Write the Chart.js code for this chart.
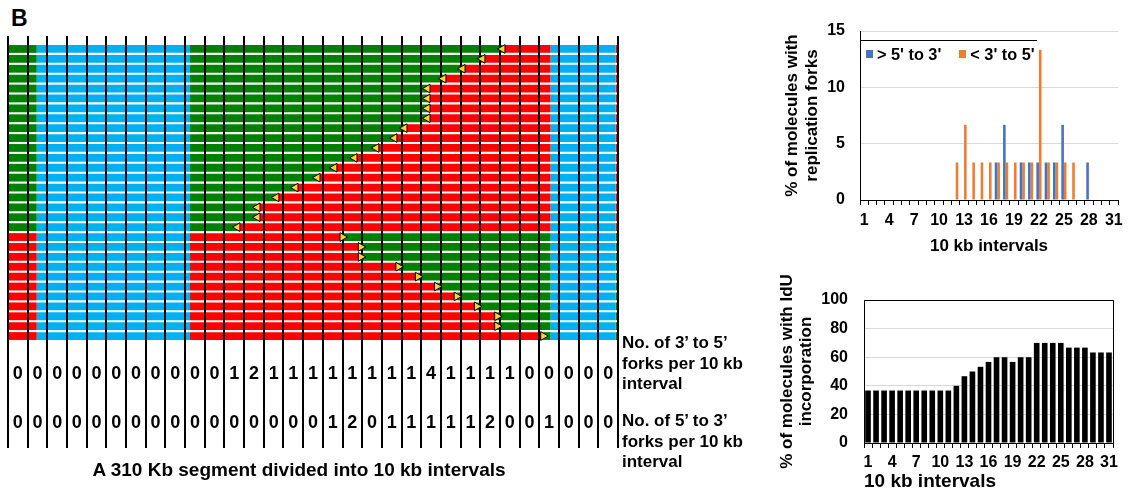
<!DOCTYPE html>
<html>
<head>
<meta charset="utf-8">
<script src="https://cdn.jsdelivr.net/npm/chart.js@4.4.1/dist/chart.umd.min.js"></script>
<style>
  html, body { margin: 0; padding: 0; background: #fff; }
  body { width: 1128px; height: 493px; position: relative; overflow: hidden;
         font-family: "Liberation Sans", Arial, Helvetica, sans-serif; color: #000; }
  .abs { position: absolute; }
  .num { position: absolute; font-weight: bold; font-size: 18px; line-height: 20px; transform: translateX(-50%); white-space: nowrap; }
  .rowlab { position: absolute; left: 622px; font-weight: bold; font-size: 17px; line-height: 20.5px; white-space: nowrap; }
  #forkLegend { position: absolute; left: 860px; top: 40px; height: 26px; border-top: 1px solid #000;
                display: flex; align-items: center; padding: 0 2px 0 6px; background: transparent;
                font-weight: bold; font-size: 16.3px; line-height: 20px; white-space: nowrap; }
  #forkLegend .sw { display: inline-block; width: 7px; height: 8px; margin-right: 4px; }
  #forkLegend .it { display: inline-flex; align-items: center; margin-right: 18px; }
  #forkLegend .it:last-child { margin-right: 0; }
</style>
</head>
<body>
<div class="abs" style="left:11px;top:7px;font-weight:bold;font-size:23px;line-height:23px;">B</div>
<div class="abs" style="left:0;top:0;width:640px;height:460px;"><canvas id="mol"></canvas></div>
<div class="rowlab" style="top:333px;">No. of 3’ to 5’<br>forks per 10 kb<br>interval</div>
<div class="rowlab" style="top:411px;">No. of 5’ to 3’<br>forks per 10 kb<br>interval</div>
<div class="abs" style="left:0;width:598px;top:460px;text-align:center;font-weight:bold;font-size:19px;line-height:20px;">A 310 Kb segment divided into 10 kb intervals</div>
<div class="abs" style="left:760px;top:20px;width:368px;height:245px;"><canvas id="forks"></canvas></div>
<div id="forkLegend"></div>
<div class="abs" style="left:760px;top:270px;width:368px;height:223px;"><canvas id="idu"></canvas></div>
<div id="numbers"></div>
<script>
// ---------------- DATA ----------------
const intervalLabels = ['1','2','3','4','5','6','7','8','9','10','11','12','13','14','15','16',
                        '17','18','19','20','21','22','23','24','25','26','27','28','29','30','31'];
// number of forks per 10 kb interval (table rows under the molecules)
const forks3to5 = [0,0,0,0,0,0,0,0,0,0,0,1,2,1,1,1,1,1,1,1,1,4,1,1,1,1,0,0,0,0,0];
const forks5to3 = [0,0,0,0,0,0,0,0,0,0,0,0,0,0,0,0,1,2,0,1,1,1,1,1,2,0,0,1,0,0,0];
// % of molecules with replication forks
const pct5to3 = [null,null,null,null,null,null,null,null,null,null,null,null,null,null,null,null,
                 3.33,6.67,null,3.33,3.33,3.33,3.33,3.33,6.67,null,null,3.33,null,null,null];
const pct3to5 = [null,null,null,null,null,null,null,null,null,null,null,3.33,6.67,3.33,3.33,3.33,
                 3.33,3.33,3.33,3.33,3.33,13.33,3.33,3.33,3.33,3.33,null,null,null,null,null];
// % of molecules with IdU incorporation
const iduPct = [36.7,36.7,36.7,36.7,36.7,36.7,36.7,36.7,36.7,36.7,36.7,40,46.7,50,53.3,56.7,
                60,60,56.7,60,60,70,70,70,70,66.7,66.7,66.7,63.3,63.3,63.3];
// individual molecules (30), fork position (in 10 kb interval units) and fork direction
const moleculeIds = ['m1','m2','m3','m4','m5','m6','m7','m8','m9','m10','m11','m12','m13','m14','m15',
                     'm16','m17','m18','m19','m20','m21','m22','m23','m24','m25','m26','m27','m28','m29','m30'];
const forkAt = [25.13,24.11,23.10,22.13,21.32,21.32,21.32,21.32,20.15,19.64,18.72,17.61,16.59,15.73,14.61,
                13.64,12.68,12.68,11.66,17.00,17.93,17.93,19.84,20.83,21.80,22.80,23.83,24.86,24.86,27.20];
const forkDir = ['L','L','L','L','L','L','L','L','L','L','L','L','L','L','L','L','L','L','L',
                 'R','R','R','R','R','R','R','R','R','R','R'];
// track layout along the 310 kb segment (interval units)
const trackStart = 0, leftLabelEnd = 1.46, gap1End = 9.25, gap2Start = 27.57, gap2End = 30.88, trackEnd = 31;

// ---------------- STYLE ----------------
const GREEN = '#008000', RED = '#FF0000', CYAN = '#00B0F0', YELLOW = '#FFD42A';
const BLUE = '#4472C4', ORANGE = '#ED7D31', GRID = '#D9D9D9';
Chart.defaults.font.family = '"Liberation Sans", Arial, Helvetica, sans-serif';
Chart.defaults.color = '#000';
Chart.defaults.animation = false;

// ---------------- MOLECULE PANEL ----------------
const firstColor = forkDir.map(d => d === 'L' ? GREEN : RED);
const secondColor = forkDir.map(d => d === 'L' ? RED : GREEN);
function segDataset(ranges, colors) {
  return { type: 'bar', indexAxis: 'y', data: ranges, backgroundColor: colors, borderWidth: 0,
           grouped: false, barPercentage: 0.79, categoryPercentage: 1, order: 1 };
}
const TRI_INDEX = 6;
const linesPlugin = {
  id: 'intervalLines',
  beforeDatasetDraw(chart, args) {
    if (args.index !== TRI_INDEX) return;
    const { ctx, chartArea, scales: { x } } = chart;
    ctx.save();
    ctx.strokeStyle = '#000';
    ctx.lineWidth = 2;
    for (let k = 0; k <= intervalLabels.length; k++) {
      const px = Math.round(x.getPixelForValue(k));
      ctx.beginPath();
      ctx.moveTo(px, chartArea.top - 8);
      ctx.lineTo(px, chartArea.bottom + 107);
      ctx.stroke();
    }
    ctx.restore();
  }
};
const molChart = new Chart(document.getElementById('mol'), {
  type: 'bar',
  data: {
    labels: moleculeIds,
    datasets: [
      segDataset(moleculeIds.map(() => [trackStart, leftLabelEnd]), firstColor),
      segDataset(moleculeIds.map(() => [leftLabelEnd, gap1End]), CYAN),
      segDataset(forkAt.map(f => [gap1End, f]), firstColor),
      segDataset(forkAt.map(f => [f, gap2Start]), secondColor),
      segDataset(moleculeIds.map(() => [gap2Start, gap2End]), CYAN),
      segDataset(moleculeIds.map(() => [gap2End, trackEnd]), secondColor),
      { type: 'scatter', data: forkAt.map((f, i) => ({ x: f, y: moleculeIds[i] })),
        pointStyle: 'triangle', pointRadius: 5, pointHoverRadius: 5, pointRotation: forkDir.map(d => d === 'L' ? -90 : 90),
        backgroundColor: YELLOW, borderColor: '#000', borderWidth: 1, clip: false, order: 0 }
    ]
  },
  options: {
    responsive: true, maintainAspectRatio: false, animation: false,
    layout: { autoPadding: false, padding: { left: 8, right: 22, top: 44, bottom: 119 } },
    plugins: { legend: { display: false }, tooltip: { enabled: false } },
    scales: {
      x: { type: 'linear', min: trackStart, max: trackEnd, offset: false, grace: 0, display: false },
      y: { type: 'category', labels: moleculeIds, offset: true, display: false }
    }
  },
  plugins: [linesPlugin]
});

// fork count table below the molecules
const xs = molChart.scales.x;
const numHost = document.getElementById('numbers');
function addRow(values, top) {
  values.forEach((v, k) => {
    const d = document.createElement('div');
    d.className = 'num';
    d.textContent = String(v);
    d.style.left = xs.getPixelForValue(k + 0.5) + 'px';
    d.style.top = top + 'px';
    numHost.appendChild(d);
  });
}
addRow(forks3to5, 363);
addRow(forks5to3, 412);

// ---------------- FORK % CHART ----------------
const everyThird = function (v, i) { return i % 3 === 0 ? this.getLabelForValue(v) : ''; };
const forkChart = new Chart(document.getElementById('forks'), {
  type: 'bar',
  data: {
    labels: intervalLabels,
    datasets: [
      { label: "> 5' to 3'", data: pct5to3, backgroundColor: BLUE, barPercentage: 1, categoryPercentage: 0.62 },
      { label: "< 3' to 5'", data: pct3to5, backgroundColor: ORANGE, barPercentage: 1, categoryPercentage: 0.62 }
    ]
  },
  options: {
    responsive: true, maintainAspectRatio: false, animation: false,
    layout: { padding: { top: 11, right: 10, left: 0, bottom: 0 } },
    plugins: { tooltip: { enabled: false }, legend: { display: false } },
    scales: {
      x: {
        grid: { offset: true, drawOnChartArea: false, tickLength: 5, color: '#000' },
        border: { color: '#000' },
        ticks: { autoSkip: false, maxRotation: 0, padding: 6, font: { size: 16, weight: 'bold' }, callback: everyThird },
        title: { display: true, text: '10 kb intervals', font: { size: 17, weight: 'bold' }, padding: { top: 0, bottom: 8 } },
        afterFit(s) { s.height = 65; s.paddingLeft = 0; s.paddingRight = 0; }
      },
      y: {
        min: 0, max: 15,
        ticks: { stepSize: 5, padding: 15, font: { size: 16, weight: 'bold' } },
        grid: { drawTicks: false, color: c => c.tick.value === 0 ? 'rgba(0,0,0,0)' : GRID },
        border: { color: '#000' },
        title: { display: true, text: ['% of molecules with', 'replication forks'],
                 font: { size: 17, weight: 'bold', lineHeight: 1.18 }, padding: { top: 22, bottom: 0 } },
        afterFit(s) { s.width = 100; s.paddingTop = 0; s.paddingBottom = 0; }
      }
    }
  }
});
// legend built from the chart's own datasets
const legendHost = document.getElementById('forkLegend');
forkChart.data.datasets.forEach(ds => {
  const it = document.createElement('span'); it.className = 'it';
  const sw = document.createElement('span'); sw.className = 'sw'; sw.style.background = ds.backgroundColor;
  const tx = document.createElement('span'); tx.textContent = ds.label;
  it.appendChild(sw); it.appendChild(tx); legendHost.appendChild(it);
});

// ---------------- IdU % CHART ----------------
const frameBox = {
  id: 'frameBox',
  afterDatasetsDraw(chart) {
    const { ctx, chartArea: a } = chart;
    ctx.save();
    ctx.strokeStyle = '#000';
    ctx.lineWidth = 1;
    ctx.strokeRect(Math.round(a.left) + 0.5, Math.round(a.top) + 0.5, Math.round(a.right - a.left), Math.round(a.bottom - a.top));
    ctx.restore();
  }
};
new Chart(document.getElementById('idu'), {
  type: 'bar',
  data: {
    labels: intervalLabels,
    datasets: [{ label: 'IdU', data: iduPct, backgroundColor: '#000', barPercentage: 0.7, categoryPercentage: 1 }]
  },
  options: {
    responsive: true, maintainAspectRatio: false, animation: false,
    layout: { padding: { top: 30, right: 15, left: 0, bottom: 0 } },
    plugins: { legend: { display: false }, tooltip: { enabled: false } },
    scales: {
      x: {
        grid: { offset: true, drawOnChartArea: false, tickLength: 5, color: '#000' },
        border: { color: '#000' },
        ticks: { autoSkip: false, maxRotation: 0, padding: 5, font: { size: 16, weight: 'bold' }, callback: everyThird },
        title: { display: true, text: '10 kb intervals', align: 'start', font: { size: 19, weight: 'bold' }, padding: { top: 0, bottom: 0 } },
        afterFit(s) { s.height = 50; s.paddingLeft = 0; s.paddingRight = 0; }
      },
      y: {
        min: 0, max: 100,
        ticks: { stepSize: 20, padding: 16, font: { size: 16, weight: 'bold' } },
        grid: { drawTicks: false, color: c => (c.tick.value === 0 || c.tick.value === 100) ? 'rgba(0,0,0,0)' : GRID },
        border: { color: '#000' },
        title: { display: true, text: ['% of molecules with IdU', 'incorporation'],
                 font: { size: 17, weight: 'bold', lineHeight: 1.12 }, padding: { top: 18, bottom: 0 } },
        afterFit(s) { s.width = 104; s.paddingTop = 0; s.paddingBottom = 0; }
      }
    }
  },
  plugins: [frameBox]
});
</script>
</body>
</html>
